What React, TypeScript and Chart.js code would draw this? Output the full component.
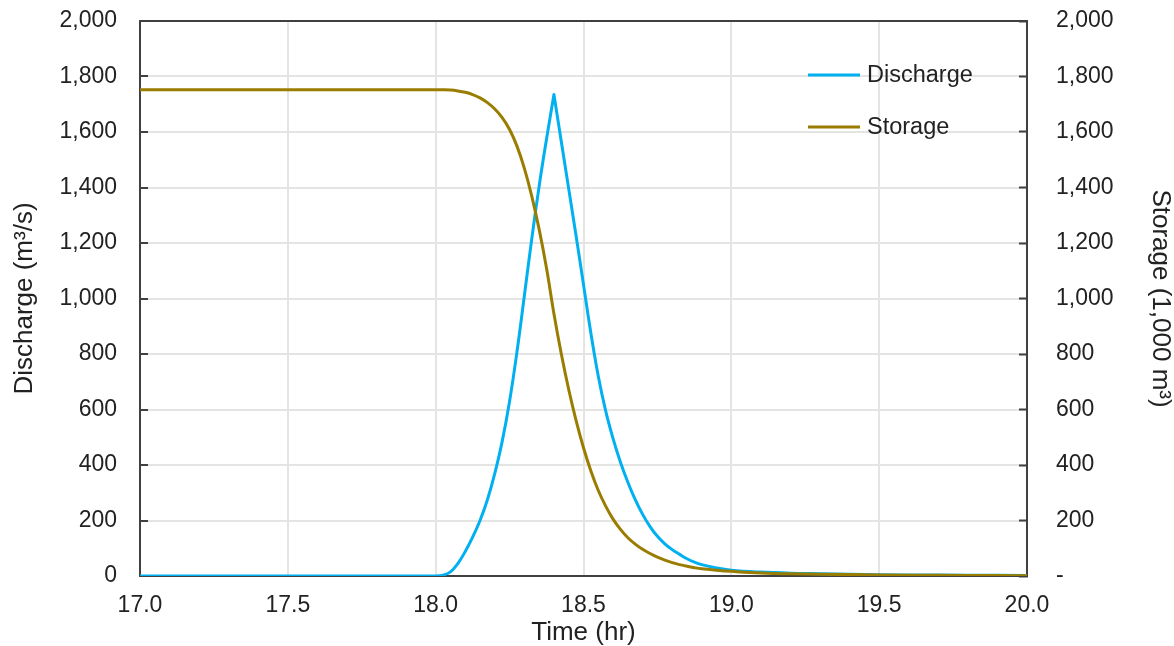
import React, { useEffect, useRef } from 'react';
import { Chart, registerables } from 'chart.js';

Chart.register(...registerables);

// ---- Data ----
const dischargeTime = [
  17.0, 17.5, 18.0, 18.025, 18.05, 18.075, 18.1, 18.125, 18.15, 18.175, 18.2, 18.225, 18.25, 18.275,
  18.3, 18.325, 18.35, 18.375, 18.4, 18.4, 18.425, 18.45, 18.475, 18.5, 18.525, 18.55, 18.575, 18.6,
  18.625, 18.65, 18.675, 18.7, 18.725, 18.75, 18.775, 18.8, 18.825, 18.85, 18.875, 18.9, 18.95, 19.0,
  19.1, 19.2, 19.3, 19.4, 19.6, 19.8, 20.0,
];
const dischargeValue = [
  0, 0, 0, 3, 15, 45, 88, 140, 200, 275, 370, 485, 630, 808,
  1010, 1215, 1405, 1575, 1735, 1735, 1565, 1395, 1225, 1050, 875, 720, 595, 495,
  410, 338, 275, 222, 178, 143, 116, 95, 78, 62, 50, 41, 29, 21,
  14, 10, 8, 6, 4, 3, 2,
];

const storageTime = [
  17.0, 17.5, 18.0, 18.025, 18.05, 18.075, 18.1, 18.125, 18.15, 18.175, 18.2, 18.225, 18.25, 18.275,
  18.3, 18.325, 18.35, 18.375, 18.4, 18.425, 18.45, 18.475, 18.5, 18.525, 18.55, 18.575, 18.6, 18.625,
  18.65, 18.675, 18.7, 18.725, 18.75, 18.775, 18.8, 18.825, 18.85, 18.875, 18.9, 18.95, 19.0,
  19.1, 19.2, 19.4, 19.6, 19.8, 20.0,
];
const storageValue = [
  1752, 1752, 1752, 1752, 1751, 1748, 1743, 1735, 1723, 1706, 1683, 1652, 1609, 1549,
  1469, 1369, 1249, 1109, 945, 800, 672, 560, 462, 378, 308, 252, 205, 168,
  138, 115, 96, 81, 68, 57, 48, 41, 35, 30, 26, 21, 17,
  11, 8, 5, 3, 2, 1,
];

const seriesLabels = ['Discharge', 'Storage'];
const xTitle = 'Time (hr)';
const yLeftTitle = 'Discharge (m³/s)';
const yRightTitle = 'Storage (1,000 m³)';

// ---- Styles ----
const FONT = "'Liberation Sans', Arial, sans-serif";
const TEXT = '#222222';
const AXIS = '#404040';
const GRID = '#e4e4e2';
const BLUE = '#00B0F0';
const OLIVE = '#9A7D00';

const fmt = (v: number) => Number(v).toLocaleString('en-US');

const framePlugin = {
  id: 'topFrame',
  beforeDatasetsDraw(chart: any) {
    const { ctx, chartArea } = chart;
    ctx.save();
    ctx.strokeStyle = AXIS;
    ctx.lineWidth = 2;
    ctx.beginPath();
    ctx.moveTo(chartArea.left - 1, chartArea.top);
    ctx.lineTo(chartArea.right + 1, chartArea.top);
    ctx.stroke();
    ctx.restore();
  },
};

const legendPlugin = {
  id: 'insideLegend',
  afterDatasetsDraw(chart: any) {
    const { ctx, chartArea } = chart;
    const x0 = chartArea.left + 668;
    const ys = [chartArea.top + 54, chartArea.top + 106];
    ctx.save();
    ctx.font = `23.5px ${FONT}`;
    ctx.textBaseline = 'middle';
    ctx.textAlign = 'left';
    seriesLabels.forEach((label, i) => {
      const ds = chart.data.datasets.find((d: any) => d.label === label);
      ctx.strokeStyle = ds.borderColor;
      ctx.lineWidth = 3;
      ctx.beginPath();
      ctx.moveTo(x0, ys[i]);
      ctx.lineTo(x0 + 52, ys[i]);
      ctx.stroke();
      ctx.fillStyle = TEXT;
      ctx.fillText(label, x0 + 59, ys[i] + 1);
    });
    ctx.restore();
  },
};

const yAfterFit = (w: number) => (s: any) => {
  s.width = w;
  s.paddingTop = 0;
  s.paddingBottom = 0;
};

export default function App() {
  const ref = useRef<HTMLCanvasElement | null>(null);

  useEffect(() => {
    document.body.style.margin = '0';
    document.body.style.overflow = 'hidden';
    const canvas = ref.current;
    if (!canvas) return;
    Chart.defaults.font.family = FONT;
    Chart.defaults.color = TEXT;

    const lineStyle = {
      borderWidth: 3,
      pointRadius: 0,
      tension: 0.4,
      borderJoinStyle: 'round',
      borderCapStyle: 'round',
    };

    const chart = new Chart(canvas, {
      type: 'line',
      data: {
        datasets: [
          {
            label: seriesLabels[0],
            data: dischargeTime.map((t, i) => ({ x: t, y: dischargeValue[i] })),
            borderColor: BLUE,
            backgroundColor: BLUE,
            ...lineStyle,
            yAxisID: 'y',
            order: 1,
          },
          {
            label: seriesLabels[1],
            data: storageTime.map((t, i) => ({ x: t, y: storageValue[i] })),
            borderColor: OLIVE,
            backgroundColor: OLIVE,
            ...lineStyle,
            yAxisID: 'y2',
            order: 0,
          },
        ],
      },
      options: {
        responsive: false,
        animation: false,
        layout: { padding: { top: 21, left: 0, right: 0, bottom: 0 } },
        plugins: {
          legend: { display: false },
          tooltip: { enabled: false },
        },
        scales: {
          x: {
            type: 'linear',
            min: 17,
            max: 20,
            ticks: {
              stepSize: 0.5,
              autoSkip: false,
              maxRotation: 0,
              padding: 16,
              color: TEXT,
              font: { size: 23 },
              callback: (v: any) => Number(v).toFixed(1),
            },
            grid: { color: GRID, lineWidth: 2, drawTicks: false },
            border: { color: AXIS, width: 2 },
            title: {
              display: true,
              text: xTitle,
              color: TEXT,
              font: { size: 26 },
              padding: { top: 0, bottom: -2 },
            },
            afterFit: (s: any) => {
              s.height = 70;
            },
          },
          y: {
            type: 'linear',
            position: 'left',
            min: 0,
            max: 2000,
            ticks: {
              stepSize: 200,
              padding: 31,
              color: TEXT,
              font: { size: 23 },
              callback: (v: any) => fmt(v),
            },
            grid: { color: GRID, lineWidth: 2, tickLength: -8, tickColor: AXIS, tickWidth: 2 },
            border: { color: AXIS, width: 2 },
            title: {
              display: true,
              text: yLeftTitle,
              color: TEXT,
              font: { size: 26 },
              padding: { top: 9, bottom: 0 },
            },
            afterFit: yAfterFit(140),
          },
          y2: {
            type: 'linear',
            position: 'right',
            min: 0,
            max: 2000,
            ticks: {
              stepSize: 200,
              padding: 37,
              color: TEXT,
              font: { size: 23 },
              callback: (v: any) => (Number(v) === 0 ? '-' : fmt(v)),
            },
            grid: { drawOnChartArea: false, tickLength: -8, tickColor: AXIS, tickWidth: 2 },
            border: { color: AXIS, width: 2 },
            title: {
              display: true,
              text: yRightTitle,
              color: TEXT,
              font: { size: 26 },
              padding: { top: -2, bottom: 0 },
            },
            afterFit: yAfterFit(147),
          },
        },
      },
      plugins: [framePlugin, legendPlugin],
    } as any);

    return () => chart.destroy();
  }, []);

  return (
    <div style={{ width: 1174, height: 646 }}>
      <canvas ref={ref} width={1174} height={646} style={{ display: 'block' }} />
    </div>
  );
}
